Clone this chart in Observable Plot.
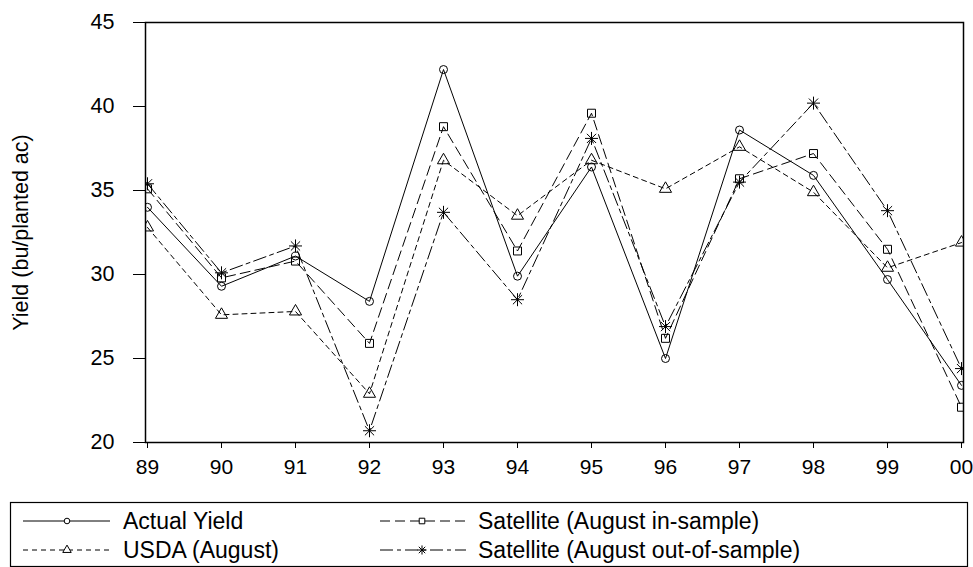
<!DOCTYPE html>
<html><head><meta charset="utf-8">
<script src="https://cdn.jsdelivr.net/npm/d3@7"></script>
<script src="https://cdn.jsdelivr.net/npm/@observablehq/plot@0.6"></script>
<style>
body{margin:0;background:#fff;font-family:"Liberation Sans",Arial,sans-serif;}
#chart{position:relative;width:973px;height:567px;overflow:hidden;}
#legend{position:absolute;left:0;top:500px;}
</style></head><body><div id="chart"></div>
<script>
// Year tick labels (crop years 1989-2000)
const years = ["89","90","91","92","93","94","95","96","97","98","99","00"];
// Series values (bu/planted ac)
const actualYield = [34.0,29.3,31.1,28.4,42.2,29.9,36.4,25.0,38.6,35.9,29.7,23.4];
const satInSample = [35.1,29.8,30.8,25.9,38.8,31.4,39.6,26.2,35.7,37.2,31.5,22.1];
const usdaAugust  = [32.8,27.6,27.8,22.9,36.8,33.5,36.8,35.1,37.6,34.9,30.4,31.9];
const satOutSample= [35.4,30.1,31.7,20.7,33.7,28.5,38.1,26.9,35.5,40.2,33.8,24.4];
const yTicks = [20,25,30,35,40,45];
const seriesNames = ["Actual Yield","Satellite (August in-sample)","USDA (August)","Satellite (August out-of-sample)"];
const seriesValues = [actualYield, satInSample, usdaAugust, satOutSample];

// custom 8-spoke asterisk symbol
const star8 = {
  draw(context, size) {
    const r = Math.sqrt(size / Math.PI);
    for (let k = 0; k < 4; k++) {
      const a = k * Math.PI / 4;
      const dx = r * Math.cos(a), dy = r * Math.sin(a);
      context.moveTo(-dx, -dy);
      context.lineTo(dx, dy);
    }
  }
};
const styles = [
  {dash: null, symbol: d3.symbolCircle, r: 4},
  {dash: "10,5", symbol: d3.symbolSquare, r: 4.5},
  {dash: "5,4", symbol: d3.symbolTriangle, r: 4.5},
  {dash: "13,4,4,4", symbol: star8, r: 6.5}
];

const rows = [];
seriesNames.forEach((name, i) => {
  seriesValues[i].forEach((v, j) => rows.push({series: name, year: years[j], value: v}));
});

const marks = [];
seriesNames.forEach((name, i) => {
  const data = rows.filter(d => d.series === name);
  const s = styles[i];
  marks.push(Plot.line(data, {x: "year", y: "value", stroke: "black", strokeWidth: 1,
    strokeDasharray: s.dash || undefined, clip: true}));
  marks.push(Plot.dot(data, {x: "year", y: "value", symbol: s.symbol, r: s.r,
    stroke: "black", fill: "none", strokeWidth: 1, clip: true}));
});

const plot = Plot.plot({
  width: 973,
  height: 500,
  marginLeft: 145,
  marginRight: 10,
  marginTop: 22,
  marginBottom: 58,
  style: {fontFamily: "'Liberation Sans', Arial, sans-serif", fontSize: "21px", color: "black", background: "white"},
  x: {type: "point", domain: years, padding: 0},
  y: {domain: [20, 45]},
  marks: [
    ...marks,
    Plot.frame({stroke: "black", strokeWidth: 1.5}),
    Plot.axisY({ticks: yTicks, tickSize: 12, tickPadding: 19, fontSize: 21.5,
      label: "Yield (bu/planted ac)", labelAnchor: "center", labelArrow: "none", labelOffset: 133}),
    Plot.axisX({tickSize: 6, tickPadding: 11, fontSize: 21, label: null})
  ]
});
document.getElementById("chart").appendChild(plot);

// Legend (below the plot)
const lg = d3.select("#chart").append("svg").attr("id", "legend")
  .attr("width", 973).attr("height", 67);
lg.append("rect").attr("x", 10.5).attr("y", 2.5).attr("width", 957).attr("height", 64)
  .attr("fill", "none").attr("stroke", "black").attr("stroke-width", 1.2);
const legendPos = [
  {x0: 23, x1: 110, mx: 67, tx: 123, y: 21},
  {x0: 380, x1: 466, mx: 422, tx: 478, y: 21},
  {x0: 23, x1: 110, mx: 67, tx: 123, y: 50},
  {x0: 380, x1: 466, mx: 422, tx: 478, y: 50}
];
seriesNames.forEach((name, i) => {
  const p = legendPos[i], s = styles[i];
  const g = lg.append("g");
  g.append("line").attr("x1", p.x0).attr("x2", p.x1).attr("y1", p.y).attr("y2", p.y)
    .attr("stroke", "black").attr("stroke-width", 1)
    .attr("stroke-dasharray", s.dash);
  g.append("path").attr("transform", `translate(${p.mx},${p.y})`)
    .attr("d", d3.symbol(s.symbol, Math.PI * (s.r * 0.7) ** 2)())
    .attr("fill", "white").attr("stroke", "black").attr("stroke-width", 1);
  g.append("text").attr("x", p.tx).attr("y", p.y).attr("dy", "0.36em")
    .attr("font-size", 23).attr("fill", "black")
    .attr("font-family", "'Liberation Sans', Arial, sans-serif").text(name);
});
</script>
</body></html>
